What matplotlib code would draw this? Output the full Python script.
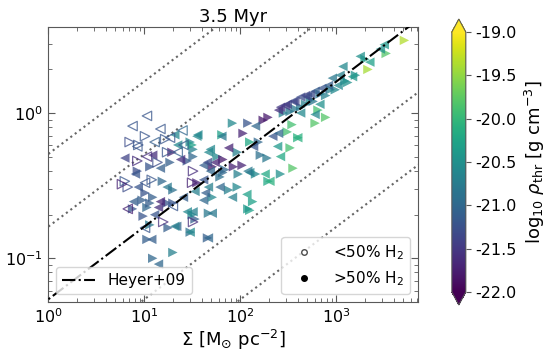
import numpy as np
import matplotlib
matplotlib.use('Agg')
import matplotlib.pyplot as plt
from matplotlib.lines import Line2D

# values, in log10 units
# filled, right-pointing markers
fr_logsig = [3.71, 3.52, 3.33, 3.30, 3.12, 2.83, 2.76, 2.63, 2.52, 2.81, 2.89, 2.78, 2.54, 2.49,
             2.29, 2.24, 2.60, 2.52, 2.55, 2.03, 1.92, 2.19, 2.21, 2.02, 1.82, 1.51, 1.97, 2.10,
             2.28, 1.76, 1.82, 1.93, 1.84, 1.79, 1.98, 2.16, 2.29, 2.42, 1.55, 1.88, 1.97, 1.71,
             2.13, 2.10, 1.67, 1.53, 1.48, 0.93, 1.06, 1.27, 1.29, 1.45, 1.48, 1.01, 0.98, 1.09,
             1.19, 1.30, 0.88, 1.03, 1.24, 1.06, 1.30, 1.06, 1.25, 1.03, 1.50, 1.30, 1.09, 0.99,
             1.66, 2.08, 1.50, 1.81, 1.71, 1.51, 2.08, 2.94,
             2.45, 2.57, 2.68, 2.73, 2.89, 2.99, 3.09, 3.20]
fr_logv = [0.50, 0.41, 0.30, 0.37, 0.21, 0.13, 0.08, 0.04, 0.01, 0.02, -0.03, -0.07, -0.08, -0.13,
           -0.03, -0.05, -0.17, -0.24, -0.38, -0.14, -0.07, -0.20, -0.29, -0.36, -0.41, -0.25, -0.27, -0.20,
           -0.31, -0.30, -0.32, -0.37, -0.39, -0.44, -0.42, -0.42, -0.47, -0.42, -0.48, -0.53, -0.51, -0.58,
           -0.61, -0.67, -0.69, -0.73, -0.82, -0.40, -0.37, -0.34, -0.27, -0.33, -0.20, -0.55, -0.60, -0.58,
           -0.47, -0.53, -0.66, -0.65, -0.62, -0.62, -0.62, -0.77, -0.79, -0.87, -0.70, -0.96, -1.00, -0.71,
           -0.86, -0.66, -0.22, -0.15, -0.37, -0.30, -0.07, 0.16,
           0.00, 0.03, 0.06, 0.09, 0.12, 0.16, 0.22, 0.26]
fr_rho = [-19.35, -19.8, -19.4, -20.3, -20.5, -20.9, -20.8, -20.8, -20.8, -19.9, -19.8, -19.8, -19.9, -19.9,
          -21.8, -21.8, -20.1, -19.9, -19.8, -21.7, -20.6, -21.0, -20.9, -21.7, -21.0, -20.7, -20.7, -20.2,
          -20.8, -20.6, -21.8, -21.7, -21.0, -20.9, -20.7, -20.6, -20.2, -20.5, -21.7, -20.7, -20.6, -20.6,
          -20.3, -20.3, -20.8, -21.1, -20.9, -21.3, -21.2, -21.1, -21.7, -21.2, -20.6, -21.2, -21.1, -21.1,
          -21.0, -20.9, -21.2, -21.0, -21.2, -21.1, -21.2, -20.8, -21.1, -21.1, -20.6, -20.7, -21.0, -21.2,
          -21.1, -20.4, -20.3, -20.3, -21.8, -21.0, -21.2, -20.7,
          -20.7, -20.8, -20.7, -20.6, -20.7, -20.6, -20.5, -20.5]

# filled, left-pointing markers
fl_logsig = [3.50, 3.46, 3.35, 3.25, 3.07, 3.17, 2.96, 3.02, 2.78, 2.70, 2.63, 2.55, 2.49, 2.42,
             2.40, 2.78, 2.60, 2.39, 1.81, 1.88, 2.14, 1.74, 1.62, 2.10, 1.55, 1.69, 2.34, 2.40,
             1.66, 1.69, 2.08, 2.26, 1.62, 2.42, 1.79, 1.64, 1.62, 1.92, 2.07, 2.31, 1.71, 1.51,
             1.67, 0.80, 0.91, 1.17, 1.09, 1.38, 1.35, 1.56, 0.94, 1.24, 1.41, 1.15, 1.53, 0.89,
             1.17, 1.11, 1.34, 1.08, 1.45, 1.48, 1.15, 1.32, 1.67, 1.32, 1.67, 2.16, 3.04,
             2.47, 2.57, 2.68, 2.73, 2.85, 2.92, 2.63, 2.83]
fl_logv = [0.47, 0.44, 0.35, 0.39, 0.32, 0.25, 0.24, 0.19, 0.15, 0.11, 0.11, 0.08, 0.06, 0.04,
           0.02, -0.01, -0.17, -0.23, -0.16, -0.24, -0.23, -0.34, -0.36, -0.41, -0.16, -0.25, -0.16, -0.14,
           -0.34, -0.40, -0.40, -0.42, -0.46, -0.30, -0.51, -0.55, -0.60, -0.58, -0.56, -0.47, -0.69, -0.68,
           -0.86, -0.31, -0.42, -0.38, -0.29, -0.32, -0.22, -0.15, -0.51, -0.51, -0.58, -0.65, -0.54, -0.61,
           -0.61, -0.70, -0.78, -0.87, -0.68, -0.82, -1.04, -0.78, -0.51, -0.15, -0.27, -0.09, 0.26,
           0.05, 0.08, 0.12, 0.13, 0.17, 0.19, 0.00, 0.06]
fl_rho = [-20.4, -20.5, -20.3, -20.5, -20.6, -20.4, -20.8, -20.6, -21.1, -21.2, -21.3, -21.3, -21.4, -21.5,
          -21.6, -20.6, -20.1, -20.4, -20.8, -21.7, -21.2, -21.7, -21.1, -20.6, -20.6, -20.6, -21.2, -21.0,
          -21.3, -21.0, -20.8, -20.2, -21.2, -20.2, -21.0, -21.1, -21.0, -20.7, -20.3, -20.1, -20.8, -20.7,
          -21.0, -21.4, -21.2, -21.1, -21.6, -21.6, -20.6, -20.6, -21.2, -20.8, -21.1, -21.6, -20.7, -21.1,
          -21.7, -21.2, -21.0, -21.1, -20.6, -20.6, -21.0, -20.7, -20.7, -20.6, -20.6, -21.0, -20.7,
          -21.5, -21.4, -21.4, -21.3, -21.2, -21.1, -20.6, -20.5]

# open (<50% H2), right-pointing
or_logsig = [1.01, 0.85, 1.24, 0.93, 1.51, 1.22, 1.14, 0.80, 0.83, 1.08, 0.77, 1.20, 1.51, 1.50, 0.94]
or_logv = [-0.16, -0.20, -0.27, -0.33, -0.40, -0.18, -0.34, -0.47, -0.51, -0.46, -0.49, -0.75, -0.75, -0.48, -0.22]
or_rho = [-21.2, -21.3, -21.2, -21.6, -21.6, -21.2, -21.3, -21.2, -21.3, -21.2, -21.7, -21.6, -21.6, -21.7, -21.2]

# open (<50% H2), left-pointing
ol_logsig = [1.03, 0.88, 1.17, 1.40, 0.93, 1.11, 1.27, 1.41, 1.03, 1.35, 1.01, 0.83, 1.01, 1.30]
ol_logv = [-0.02, -0.09, -0.11, -0.12, -0.23, -0.20, -0.17, -0.22, -0.30, -0.27, -0.48, -0.66, -0.79, -0.64]
ol_rho = [-21.2, -21.2, -21.2, -21.0, -21.2, -21.1, -21.2, -21.1, -21.6, -21.1, -21.2, -21.7, -21.2, -21.2]

heyer_coeff = 0.052
virial_alphas = [0.01, 0.1, 10, 100]

cmap = plt.get_cmap('viridis')
norm = matplotlib.colors.Normalize(vmin=-22, vmax=-19)

fig = plt.figure(figsize=(5.51, 3.57), dpi=100)
ax = fig.add_axes([0.0871, 0.154, 0.6715, 0.770])

# reference lines
sig_line = np.logspace(-0.5, 4.5, 200)
for a in virial_alphas:
    ax.plot(sig_line, heyer_coeff * np.sqrt(a) * np.sqrt(sig_line), ls=':', color='0.4', lw=1.5, zorder=1)
ax.plot(sig_line, heyer_coeff * np.sqrt(sig_line), ls='-.', color='black', lw=1.5, zorder=3, label='Heyer+09')

ms = 46
al = 0.75
ax.scatter(10**np.array(fr_logsig), 10**np.array(fr_logv), c=fr_rho, cmap=cmap, norm=norm,
           marker='>', s=ms, alpha=al, linewidths=0, zorder=2)
ax.scatter(10**np.array(fl_logsig), 10**np.array(fl_logv), c=fl_rho, cmap=cmap, norm=norm,
           marker='<', s=ms, alpha=al, linewidths=0, zorder=2)
ax.scatter(10**np.array(or_logsig), 10**np.array(or_logv), facecolors='none',
           edgecolors=cmap(norm(np.array(or_rho))), marker='>', s=ms, alpha=al, linewidths=0.9, zorder=2)
ax.scatter(10**np.array(ol_logsig), 10**np.array(ol_logv), facecolors='none',
           edgecolors=cmap(norm(np.array(ol_rho))), marker='<', s=ms, alpha=al, linewidths=0.9, zorder=2)

ax.set_xscale('log')
ax.set_yscale('log')
ax.set_xlim(1, 7100)
ax.set_ylim(0.05, 3.9)

ax.tick_params(which='both', direction='in', top=True, right=True, labelsize=11.5, color='0.35')
ax.tick_params(which='major', length=5)
ax.tick_params(which='minor', length=3)
for s in ax.spines.values():
    s.set_color('0.35')

ax.set_title('3.5 Myr', fontsize=13, pad=4)
ax.set_xlabel(r'$\Sigma$ [M$_{\odot}$ pc$^{-2}$]', fontsize=13, labelpad=2)
ax.set_ylabel(r'$\sigma/R^{1/2}$ [km s$^{-1}$ pc$^{-1/2}$]', fontsize=13, labelpad=16)

leg1 = ax.legend(loc='lower left', fontsize=11, handlelength=2.2, borderpad=0.4)
ax.add_artist(leg1)

handles = [Line2D([], [], ls='none', marker='o', mfc='white', mec='0.3', ms=4),
           Line2D([], [], ls='none', marker='o', mfc='black', mec='black', ms=4)]
ax.legend(handles, [r'<50% H$_2$', r'>50% H$_2$'], loc='lower right', fontsize=11,
          handlelength=2.2, borderpad=0.4)

cax = fig.add_axes([0.820, 0.1457, 0.0254, 0.801])
sm = matplotlib.cm.ScalarMappable(norm=norm, cmap=cmap)
cb = fig.colorbar(sm, cax=cax, extend='both')
cb_ticks = [-19.0, -19.5, -20.0, -20.5, -21.0, -21.5, -22.0]
cb.set_ticks(cb_ticks)
cb.ax.set_yticklabels(['%.1f' % t for t in cb_ticks])
cb.ax.tick_params(labelsize=11.5, color='0.35')
cb.outline.set_edgecolor('0.35')
cb.set_label(r'log$_{10}$ $\rho_{\rm thr}$ [g cm$^{-3}$]', fontsize=13)

fig.savefig('out.png', dpi=100)
